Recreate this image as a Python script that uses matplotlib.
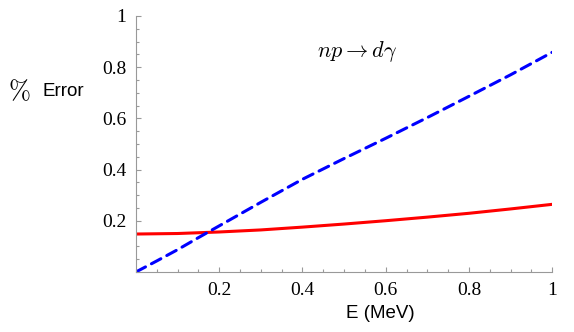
import numpy as np
import matplotlib.pyplot as plt
from matplotlib.ticker import MultipleLocator

plt.rcParams['font.family'] = ['Liberation Serif', 'DejaVu Serif']
plt.rcParams['mathtext.fontset'] = 'cm'

# energy grid (MeV) and % error
e_red = [0.0, 0.1, 0.2, 0.3, 0.4, 0.5, 0.6, 0.7, 0.8, 0.9, 1.0]
err_red = [0.148, 0.150, 0.156, 0.164, 0.175, 0.187, 0.200, 0.214, 0.229, 0.246, 0.264]

e_blue = [0.0, 0.05, 0.1, 0.15, 0.2, 0.25, 0.3, 0.4, 0.5, 0.6, 0.7, 0.8, 0.9, 1.0]
err_blue = [0.0, 0.043, 0.087, 0.134, 0.180, 0.226, 0.272, 0.362, 0.443, 0.522, 0.603, 0.686, 0.770, 0.858]

ticks = [0.2, 0.4, 0.6, 0.8, 1.0]
tick_labels = ['0.2', '0.4', '0.6', '0.8', '1']

fig = plt.figure(figsize=(5.74, 3.32), dpi=100)
ax = fig.add_axes([0.237, 0.181, 0.725, 0.771])

ax.plot(e_red, err_red, color='#ff0000', lw=2.2, solid_capstyle='butt')
ax.plot(e_blue, err_blue, color='#0000ff', lw=2.2, dashes=(3.5, 2.2), dash_capstyle='round')

ax.set_xlim(0, 1)
ax.set_ylim(0, 1)
for s in ['top', 'right']:
    ax.spines[s].set_visible(False)
for s in ['left', 'bottom']:
    ax.spines[s].set_color('#999999')
    ax.spines[s].set_linewidth(0.8)

ax.xaxis.set_minor_locator(MultipleLocator(0.05))
ax.yaxis.set_minor_locator(MultipleLocator(0.05))
ax.tick_params(which='both', direction='in', color='#999999', width=0.8)
ax.tick_params(which='major', length=3.5, pad=7)
ax.tick_params(which='minor', length=2)
ax.set_xticks(ticks)
ax.set_xticklabels(tick_labels, fontsize=14, family='Liberation Serif')
ax.set_yticks(ticks)
ax.set_yticklabels(tick_labels, fontsize=14, family='Liberation Serif')

ax.text(0.53, 0.86, r'$np \rightarrow d\gamma$', fontsize=16, ha='center', va='center')

fig.text(380 / 574, 1 - 314 / 332, 'E (MeV)', family='Liberation Sans', fontsize=13.5,
         ha='center', va='center')
fig.text(19 / 574, 1 - 91 / 332, r'$\%$', fontsize=19, ha='center', va='center')
fig.text(42 / 574, 1 - 92 / 332, 'Error', family='Liberation Sans', fontsize=13.5,
         ha='left', va='center')

fig.savefig('out.png', dpi=100)
